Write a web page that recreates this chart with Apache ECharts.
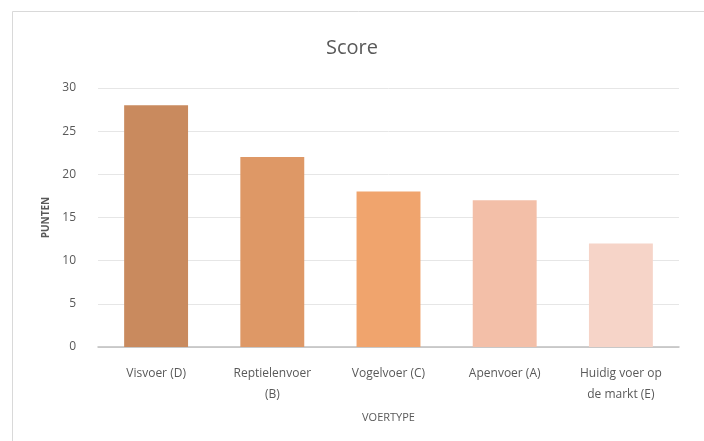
<!DOCTYPE html>
<html><head><meta charset="utf-8">
<script src="https://cdn.jsdelivr.net/npm/echarts@6/dist/echarts.min.js"></script>
<style>html,body{margin:0;padding:0;background:#fff}#c{width:704px;height:441px}</style>
</head><body><div id="c"></div>
<script>
const categories = ['Visvoer (D)', 'Reptielenvoer\n(B)', 'Vogelvoer (C)', 'Apenvoer (A)', 'Huidig voer op\nde markt (E)'];
const values = [28, 22, 18, 17, 12];
const barColors = ['#C98A5E', '#DE9866', '#F0A46D', '#F3BFA8', '#F6D4C8'];
const yTicks = [0, 5, 10, 15, 20, 25, 30];

const chart = echarts.init(document.getElementById('c'), null, {renderer: 'canvas'});
const font = '"Open Sans", "Noto Sans", sans-serif';
chart.setOption({
  animation: false,
  backgroundColor: '#fff',
  graphic: [{
    type: 'rect', left: 12, top: 11, z: -1,
    shape: {width: 720, height: 460},
    style: {fill: '#fff', stroke: '#d9d9d9', lineWidth: 1}
  }],
  title: {
    text: 'Score', left: 'center', top: 33,
    textStyle: {fontFamily: font, fontSize: 20, fontWeight: 'normal', color: '#595959'}
  },
  grid: {left: 98, right: 25, top: 88, bottom: 94, containLabel: false},
  xAxis: {
    type: 'category', data: categories,
    name: 'VOERTYPE', nameLocation: 'middle', nameGap: 65,
    nameTextStyle: {fontFamily: font, fontSize: 11, color: '#595959'},
    axisLine: {lineStyle: {color: '#bfbfbf', width: 1.5}},
    axisTick: {show: false},
    axisLabel: {fontFamily: font, fontSize: 12, color: '#595959', margin: 16, lineHeight: 21, interval: 0}
  },
  yAxis: {
    type: 'value', min: 0, max: 30, interval: 5,
    name: 'PUNTEN', nameLocation: 'middle', nameGap: 44,
    nameTextStyle: {fontFamily: font, fontSize: 10, fontWeight: 'bold', color: '#595959'},
    axisLine: {show: false}, axisTick: {show: false},
    axisLabel: {fontFamily: font, fontSize: 12, color: '#595959', margin: 22,
      formatter: v => yTicks.includes(v) ? String(v) : ''},
    splitLine: {lineStyle: {color: '#e6e6e6', width: 1}}
  },
  series: [{
    type: 'bar', barWidth: '55%',
    data: values.map((v, i) => ({value: v, itemStyle: {color: barColors[i]}}))
  }]
});
</script></body></html>
